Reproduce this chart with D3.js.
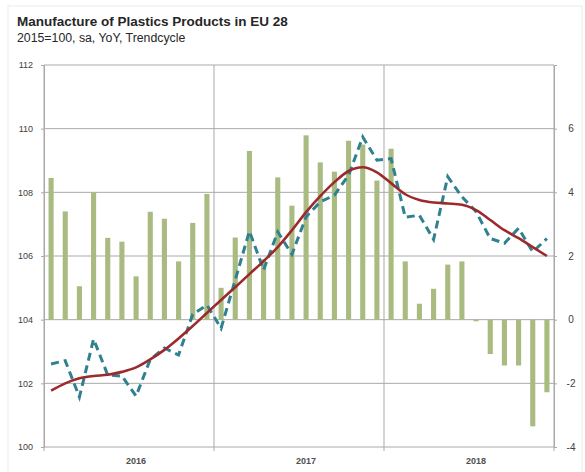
<!DOCTYPE html>
<html>
<head>
<meta charset="utf-8">
<script src="https://cdn.jsdelivr.net/npm/d3@7"></script>
<style>
  body { margin: 0; background: #fff; }
  text { font-family: "Liberation Sans", Arial, sans-serif; }
</style>
</head>
<body>
<div id="chart"></div>
<script>
// monthly categories
var months = ["Jan 16","Feb 16","Mar 16","Apr 16","May 16","Jun 16","Jul 16","Aug 16","Sep 16","Oct 16","Nov 16","Dec 16",
              "Jan 17","Feb 17","Mar 17","Apr 17","May 17","Jun 17","Jul 17","Aug 17","Sep 17","Oct 17","Nov 17","Dec 17",
              "Jan 18","Feb 18","Mar 18","Apr 18","May 18","Jun 18","Jul 18","Aug 18","Sep 18","Oct 18","Nov 18","Dec 18"];
var years = ["2016","2017","2018"];

// YoY % (bars, right axis)
var yoy = [4.45,3.4,1.05,4.0,2.57,2.45,1.36,3.39,3.17,1.83,3.04,3.95,
           1.0,2.58,5.3,1.9,4.47,3.58,5.79,4.94,4.65,5.62,5.5,4.37,
           5.37,1.83,0.5,0.97,1.73,1.83,-0.05,-1.08,-1.44,-1.44,-3.35,-2.28];

// index 2015=100, sa (dashed, left axis)
var indexSa = [102.61,102.71,101.57,103.39,102.26,102.23,101.6,102.75,103.11,102.89,104.17,104.46,
               103.73,105.25,106.78,105.56,106.76,106.05,107.23,107.7,107.91,108.54,109.74,109.01,
               109.06,107.22,107.28,106.52,108.49,107.86,107.39,106.55,106.4,106.87,106.13,106.55];

// trendcycle (solid, left axis)
var trend = [101.77,102.0,102.16,102.23,102.27,102.36,102.5,102.75,103.05,103.41,103.8,104.21,
             104.62,105.02,105.43,105.84,106.28,106.81,107.38,107.88,108.32,108.67,108.79,108.63,
             108.29,107.94,107.76,107.68,107.65,107.61,107.44,107.13,106.81,106.56,106.28,106.0];

var leftTicks = [100,102,104,106,108,110,112];
var rightTicks = [-4,-2,0,2,4,6];

var width = 585, height = 472;
var plot = {left: 44, right: 554, top: 65, bottom: 447};

var svg = d3.select("#chart").append("svg")
    .attr("width", width)
    .attr("height", height);

// faint outer frame
svg.append("rect")
    .attr("x", 8).attr("y", 6)
    .attr("width", 574).attr("height", 470)
    .attr("fill", "none")
    .attr("stroke", "#ececec");

svg.append("text")
    .attr("x", 17).attr("y", 26)
    .style("font-size", "13.5px")
    .style("font-weight", "bold")
    .attr("fill", "#262626")
    .text("Manufacture of Plastics Products in EU 28");

svg.append("text")
    .attr("x", 17).attr("y", 42)
    .style("font-size", "12.3px")
    .attr("fill", "#262626")
    .text("2015=100, sa, YoY, Trendcycle");

var x = d3.scaleBand()
    .domain(months)
    .range([plot.left, plot.right])
    .paddingInner(0.64)
    .paddingOuter(0.32);

var yLeft = d3.scaleLinear().domain([100, 112]).range([plot.bottom, plot.top]);
var yRight = d3.scaleLinear().domain([-4, 8]).range([plot.bottom, plot.top]);

var gridColor = "#a9a9a9";

/* horizontal gridlines */
svg.append("g")
    .selectAll("line")
    .data(leftTicks)
    .join("line")
    .attr("x1", plot.left).attr("x2", plot.right)
    .attr("y1", d => yLeft(d)).attr("y2", d => yLeft(d))
    .attr("stroke", gridColor)
    .attr("stroke-width", 1);

/* vertical year gridlines */
var yearEdges = [0, 12, 24, 36].map(i => plot.left + i * x.step());
svg.append("g")
    .selectAll("line")
    .data(yearEdges)
    .join("line")
    .attr("x1", d => d).attr("x2", d => d)
    .attr("y1", plot.top).attr("y2", plot.bottom + 4)
    .attr("stroke", gridColor)
    .attr("stroke-width", 1);

/* bars */
svg.append("g")
    .selectAll("rect")
    .data(yoy)
    .join("rect")
    .attr("x", (d, i) => x(months[i]))
    .attr("width", x.bandwidth())
    .attr("y", d => yRight(Math.max(0, d)))
    .attr("height", d => Math.max(1, Math.abs(yRight(d) - yRight(0))))
    .attr("fill", "#a9bb80");

/* lines */
var cx = (d, i) => x(months[i]) + x.bandwidth() / 2;

svg.append("path")
    .datum(indexSa)
    .attr("fill", "none")
    .attr("stroke", "#2f8090")
    .attr("stroke-width", 3)
    .attr("stroke-dasharray", "8,5")
    .attr("d", d3.line().x(cx).y(d => yLeft(d)));

svg.append("path")
    .datum(trend)
    .attr("fill", "none")
    .attr("stroke", "#9c2a2d")
    .attr("stroke-width", 2.6)
    .attr("d", d3.line().x(cx).y(d => yLeft(d)).curve(d3.curveMonotoneX));

/* left axis */
var leftAxis = d3.axisLeft(yLeft).tickValues(leftTicks).tickSize(3).tickPadding(8);
var gL = svg.append("g")
    .attr("transform", `translate(${plot.left},0)`)
    .call(leftAxis);
gL.select(".domain").attr("stroke", gridColor);
gL.selectAll(".tick line").attr("stroke", gridColor);
gL.selectAll("text").style("font-size", "9px").attr("fill", "#404040");

/* right axis */
var rightAxis = d3.axisRight(yRight).tickValues(rightTicks).tickSize(3).tickPadding(8)
    .tickFormat(d => String(d));
var gR = svg.append("g")
    .attr("transform", `translate(${plot.right},0)`)
    .call(rightAxis);
gR.select(".domain").attr("stroke", gridColor);
gR.selectAll(".tick line").attr("stroke", gridColor);
gR.selectAll("text")
    .style("font-size", "10px")
    .attr("fill", "#404040")
    .attr("text-anchor", "middle")
    .attr("x", 17);

/* year labels */
svg.append("g")
    .selectAll("text")
    .data(years)
    .join("text")
    .attr("x", (d, i) => x(months[i * 12 + 6]) + x.bandwidth() / 2)
    .attr("y", 464)
    .attr("text-anchor", "middle")
    .style("font-size", "9px")
    .style("font-weight", "bold")
    .attr("fill", "#505050")
    .text(d => d);
</script>
</body>
</html>
